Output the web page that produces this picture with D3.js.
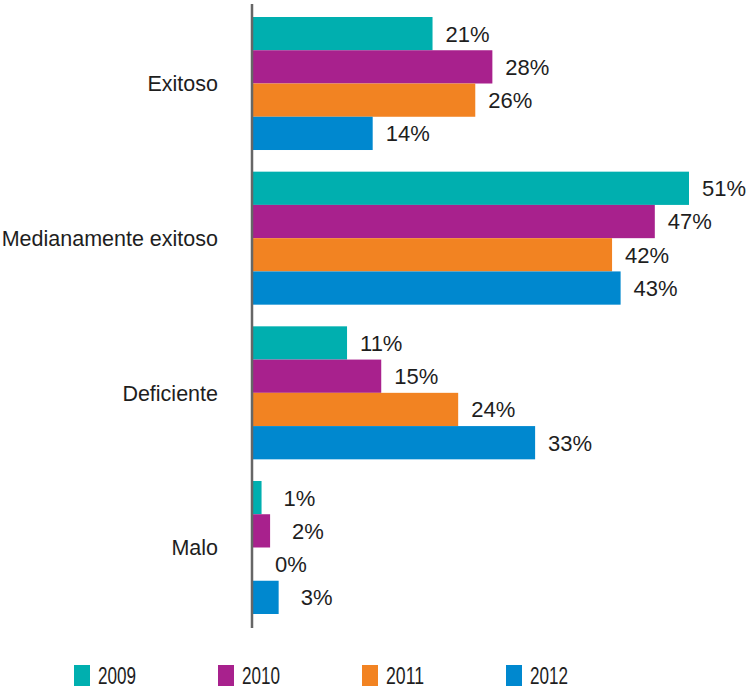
<!DOCTYPE html>
<html lang="es">
  <head>
    <meta charset="UTF-8" />
    <title>Resultados</title>
    <style>
      body {
        margin: 0;
        background: #fff;
        font-family: "Liberation Sans", Arial, sans-serif;
      }
      .cat {
        font-size: 21.5px;
        fill: #1e1e1e;
      }
      .val {
        font-size: 22px;
        fill: #1e1e1e;
      }
      .leg text {
        font-size: 23px;
        fill: #1e1e1e;
      }
    </style>
  </head>
  <body>
    <svg width="748" height="690"></svg>

    <script src="https://d3js.org/d3.v7.min.js"></script>
    <script>
      const categories = ["Exitoso", "Medianamente exitoso", "Deficiente", "Malo"];
      const years = ["2009", "2010", "2011", "2012"];
      const colors = ["#00afaf", "#a8218d", "#f28322", "#0088cf"];

      // one array per year, in category order
      const v2009 = [21, 51, 11, 1];
      const v2010 = [28, 47, 15, 2];
      const v2011 = [26, 42, 24, 0];
      const v2012 = [14, 43, 33, 3];
      const series = [v2009, v2010, v2011, v2012];

      const svg = d3.select("svg");

      const y0 = d3.scaleBand().domain(categories).range([17, 614]).paddingInner(0.14);
      const y1 = d3.scaleBand().domain(years).range([0, y0.bandwidth()]);
      const x = d3.scaleLinear().domain([0, 51]).range([253, 689]);

      const rows = [];
      categories.forEach((c, ci) => {
        years.forEach((yr, si) => {
          rows.push({ cat: c, year: yr, value: series[si][ci], color: colors[si] });
        });
      });

      svg
        .selectAll("rect.bar")
        .data(rows)
        .enter()
        .append("rect")
        .attr("class", "bar")
        .attr("x", x(0))
        .attr("y", (d) => y0(d.cat) + y1(d.year))
        .attr("width", (d) => x(d.value) - x(0))
        .attr("height", y1.bandwidth())
        .attr("fill", (d) => d.color);

      svg
        .selectAll("text.val")
        .data(rows)
        .enter()
        .append("text")
        .attr("class", "val")
        .attr("x", (d) => x(d.value) + (d.value < 5 ? 22 : 13))
        .attr("y", (d) => y0(d.cat) + y1(d.year) + y1.bandwidth() / 2)
        .attr("dy", "0.36em")
        .text((d) => d.value + "%");

      svg
        .selectAll("text.cat")
        .data(categories)
        .enter()
        .append("text")
        .attr("class", "cat")
        .attr("x", 218)
        .attr("y", (d) => y0(d) + y0.bandwidth() / 2)
        .attr("dy", "0.36em")
        .attr("text-anchor", "end")
        .text((d) => d);

      // vertical axis line
      svg
        .append("line")
        .attr("x1", 252)
        .attr("x2", 252)
        .attr("y1", 4)
        .attr("y2", 628)
        .attr("stroke", "#666")
        .attr("stroke-width", 2.5);

      const legendX = d3.scalePoint().domain(years).range([74, 506]);
      const leg = svg
        .selectAll("g.leg")
        .data(years)
        .enter()
        .append("g")
        .attr("class", "leg")
        .attr("transform", (d) => `translate(${legendX(d)}, 665)`);
      leg
        .append("rect")
        .attr("width", 16)
        .attr("height", 21)
        .attr("fill", (d, i) => colors[i]);
      leg
        .append("text")
        .attr("x", 24)
        .attr("y", 19)
        .attr("textLength", 38)
        .attr("lengthAdjust", "spacingAndGlyphs")
        .text((d) => d);
    </script>
  </body>
</html>
